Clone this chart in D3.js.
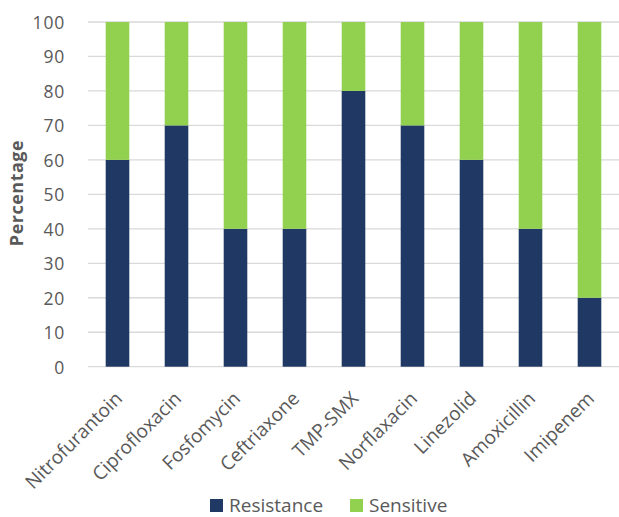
<!DOCTYPE html>
<html><head><meta charset="utf-8">
<script src="https://cdn.jsdelivr.net/npm/d3@7"></script>
<style>
html,body{margin:0;padding:0;background:#fff;}
svg{display:block;font-family:"Open Sans",sans-serif;}
</style></head>
<body>
<svg id="chart" width="619" height="517"></svg>
<script>
const categories = ["Nitrofurantoin","Ciprofloxacin","Fosfomycin","Ceftriaxone","TMP-SMX","Norflaxacin","Linezolid","Amoxicillin","Imipenem"];
const resistance = [60,70,40,40,80,70,60,40,20];
const sensitive  = [40,30,60,60,20,30,40,60,80];
const seriesNames = ["Resistance","Sensitive"];
const seriesColors = ["#203864","#92d050"];
const yTicks = [0,10,20,30,40,50,60,70,80,90,100];
const yTitle = "Percentage";

const svg = d3.select("#chart");
const plotLeft = 88, plotRight = 619, plotTop = 22, plotBottom = 366.7;
const x = d3.scaleBand().domain(categories).range([plotLeft, plotRight]).paddingInner(0.6).paddingOuter(0.3);
const y = d3.scaleLinear().domain([0,100]).range([plotBottom, plotTop]);
const textColor = "#595959";

// gridlines
svg.append("g").selectAll("line").data(yTicks).join("line")
  .attr("x1", plotLeft).attr("x2", plotRight)
  .attr("y1", d => y(d)).attr("y2", d => y(d))
  .attr("stroke", "#d9d9d9").attr("stroke-width", 1.3);

// stacked data
const rows = categories.map((c,i) => ({cat:c, Resistance:resistance[i], Sensitive:sensitive[i]}));
const stack = d3.stack().keys(seriesNames)(rows);
svg.append("g").selectAll("g").data(stack).join("g")
  .attr("fill", (d,i) => seriesColors[i])
  .selectAll("rect").data(d => d).join("rect")
  .attr("x", d => x(d.data.cat))
  .attr("width", x.bandwidth())
  .attr("y", d => y(d[1]))
  .attr("height", d => y(d[0]) - y(d[1]));

// y axis labels
const yAxis = d3.axisLeft(y).tickValues(yTicks).tickSize(0).tickPadding(0);
const ya = svg.append("g").attr("transform", `translate(65,0)`).call(yAxis);
ya.select(".domain").remove();
ya.selectAll("text").attr("fill", textColor)
  .style("font-size","17.5px").style("letter-spacing","0.8px")
  .style("font-family","'Open Sans',sans-serif").attr("dy","0.36em");

// x axis labels
const xAxis = d3.axisBottom(x).tickSize(0);
const xa = svg.append("g").attr("transform", `translate(0,${plotBottom})`).call(xAxis);
xa.select(".domain").remove();
xa.selectAll("text")
  .attr("fill", textColor).style("font-size","19px").style("font-family","'Open Sans',sans-serif")
  .attr("text-anchor","end").attr("y",0).attr("dy",0)
  .attr("transform","translate(6,33) rotate(-45)");

// y title
svg.append("text").attr("transform","translate(23,193) rotate(-90)")
  .attr("text-anchor","middle").attr("fill", textColor)
  .style("font-size","18px").style("font-weight","bold").style("letter-spacing","0.5px").text(yTitle);

// legend
const legendX = [210, 350];
const lg = svg.append("g").selectAll("g").data(seriesNames).join("g")
  .attr("transform", (d,i) => `translate(${legendX[i]},499)`);
lg.append("rect").attr("width",13).attr("height",13).attr("fill",(d,i)=>seriesColors[i]);
lg.append("text").attr("x",19).attr("y",13).attr("fill",textColor)
  .style("font-size","19px").text(d=>d);
</script>
</body></html>
